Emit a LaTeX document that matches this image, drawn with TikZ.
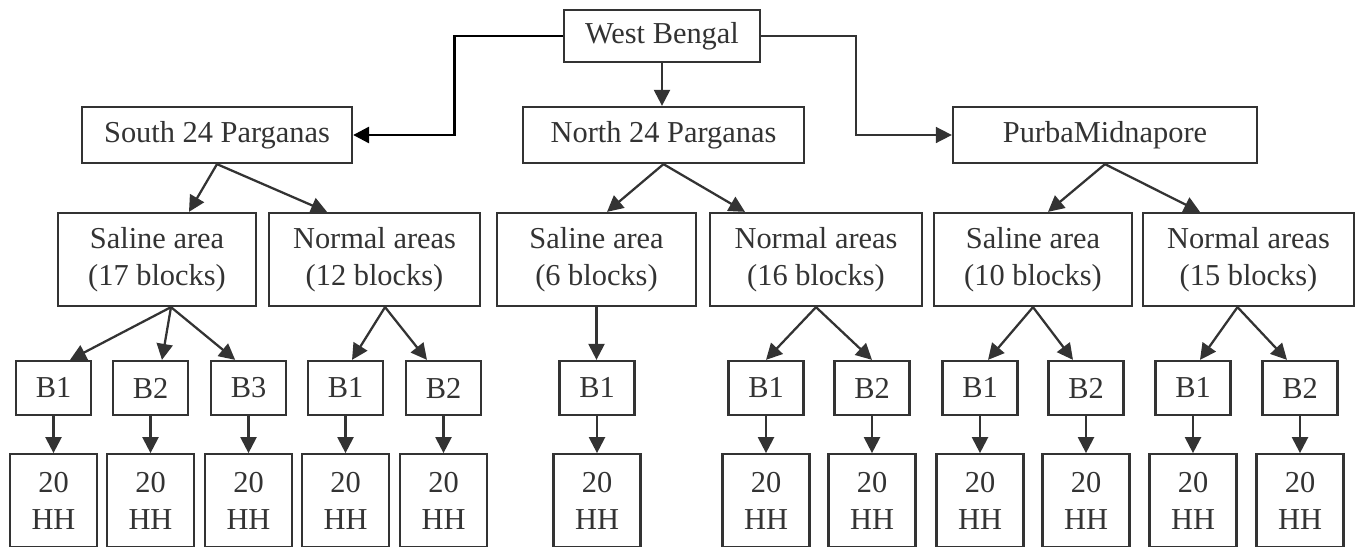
\documentclass[tikz,border=0pt]{standalone}
\usepackage{fontspec}
\setmainfont{Liberation Serif}
\usetikzlibrary{arrows.meta,positioning}
\definecolor{FlowGray}{HTML}{333333}

\begin{document}
\begin{tikzpicture}[
  x=0.75pt, y=0.75pt,
  node distance=27.75pt,
  box/.style={draw=FlowGray, line width=1.7pt, text=FlowGray, align=center, inner sep=0pt, font=\fontsize{22.8}{27.5}\selectfont},
  level/.style={box, minimum height=42pt},
  area/.style={box, minimum height=69.75pt},
  blk/.style={box, minimum width=56.25pt, minimum height=40.5pt},
  hh/.style={box, minimum width=65.25pt, minimum height=69.75pt},
  arrow/.style={-{Triangle[length=12pt,width=12pt]}, line width=1.7pt, draw=FlowGray}
]
\useasboundingbox (0,0) rectangle (1355,-546);

% state and districts
\node[box, minimum width=147pt, minimum height=39pt] (wb) at (662,-36) {West Bengal};
\node[level, minimum width=202.5pt] (south) at (217,-135) {South 24 Parganas};
\node[level, minimum width=210.75pt] (north) at (663.5,-135) {North 24 Parganas};
\node[level, minimum width=228pt] (purba) at (1105,-135) {PurbaMidnapore};

% areas
\node[area, minimum width=148.5pt] (ssal) at (157,-259.5) {Saline area\\(17 blocks)};
\node[area, minimum width=158.25pt] (snor) at (374.5,-259.5) {Normal areas\\(12 blocks)};
\node[area, minimum width=149.25pt] (nsal) at (596.5,-259.5) {Saline area\\(6 blocks)};
\node[area, minimum width=159pt] (nnor) at (816,-259.5) {Normal areas\\(16 blocks)};
\node[area, minimum width=148.5pt] (psal) at (1033,-259.5) {Saline area\\(10 blocks)};
\node[area, minimum width=158.25pt] (pnor) at (1248.5,-259.5) {Normal areas\\(15 blocks)};

% blocks
\node[blk] (sb1) at (53.5,-388) {B1};
\node[blk] (sb2) at (150.5,-388) {B2};
\node[blk] (sb3) at (248.5,-388) {B3};
\node[blk] (snb1) at (345.5,-388) {B1};
\node[blk] (snb2) at (443.5,-388) {B2};
\node[blk] (nb1) at (597,-388) {B1};
\node[blk] (nnb1) at (766,-388) {B1};
\node[blk] (nnb2) at (872,-388) {B2};
\node[blk] (pb1) at (980,-388) {B1};
\node[blk] (pb2) at (1086,-388) {B2};
\node[blk] (pnb1) at (1193,-388) {B1};
\node[blk] (pnb2) at (1300,-388) {B2};

% households
\node[hh, below=of sb1] (sh1) {20\\HH};
\node[hh, below=of sb2] (sh2) {20\\HH};
\node[hh, below=of sb3] (sh3) {20\\HH};
\node[hh, below=of snb1] (snh1) {20\\HH};
\node[hh, below=of snb2] (snh2) {20\\HH};
\node[hh, below=of nb1] (nh1) {20\\HH};
\node[hh, below=of nnb1] (nnh1) {20\\HH};
\node[hh, below=of nnb2] (nnh2) {20\\HH};
\node[hh, below=of pb1] (ph1) {20\\HH};
\node[hh, below=of pb2] (ph2) {20\\HH};
\node[hh, below=of pnb1] (pnh1) {20\\HH};
\node[hh, below=of pnb2] (pnh2) {20\\HH};

\draw[arrow] (wb.south) -- (wb.south |- north.north);
\draw[arrow, draw=black, line width=2.2pt] (wb.west) -- ++(-108,0) |- (south.east);
\draw[arrow, line width=1.2pt] (wb.east) -- ++(95,0) |- (purba.west);

\draw[arrow] (south.south) -- ([xshift=24pt]ssal.north);
\draw[arrow] (south.south) -- ([xshift=-35.6pt]snor.north);
\draw[arrow] (north.south) -- ([xshift=7.9pt]nsal.north);
\draw[arrow] (north.south) -- ([xshift=-53.25pt]nnor.north);
\draw[arrow] (purba.south) -- ([xshift=11.25pt]psal.north);
\draw[arrow] (purba.south) -- ([xshift=-36.4pt]pnor.north);

\draw[arrow] ([xshift=10.5pt]ssal.south) -- ([xshift=12.4pt]sb1.north);
\draw[arrow] ([xshift=10.5pt]ssal.south) -- ([xshift=8.6pt]sb2.north);
\draw[arrow] ([xshift=10.5pt]ssal.south) -- ([xshift=-10pt]sb3.north);
\draw[arrow] ([xshift=7.9pt]snor.south) -- ([xshift=4.9pt]snb1.north);
\draw[arrow] ([xshift=7.9pt]snor.south) -- ([xshift=-12.4pt]snb2.north);
\draw[arrow] (nsal.south) -- (nsal.south |- nb1.north);
\draw[arrow] (nnor.south) -- (nnb1.north);
\draw[arrow] (nnor.south) -- (nnb2.north);
\draw[arrow] (psal.south) -- ([xshift=6pt]pb1.north);
\draw[arrow] (psal.south) -- ([xshift=-9.75pt]pb2.north);
\draw[arrow] ([xshift=-8.25pt]pnor.south) -- ([xshift=5.25pt]pnb1.north);
\draw[arrow] ([xshift=-8.25pt]pnor.south) -- ([xshift=-9.75pt]pnb2.north);

\draw[arrow] (sb1) -- (sh1);
\draw[arrow] (sb2) -- (sh2);
\draw[arrow] (sb3) -- (sh3);
\draw[arrow] (snb1) -- (snh1);
\draw[arrow] (snb2) -- (snh2);
\draw[arrow] (nb1) -- (nh1);
\draw[arrow] (nnb1) -- (nnh1);
\draw[arrow] (nnb2) -- (nnh2);
\draw[arrow] (pb1) -- (ph1);
\draw[arrow] (pb2) -- (ph2);
\draw[arrow] (pnb1) -- (pnh1);
\draw[arrow] (pnb2) -- (pnh2);
\end{tikzpicture}
\end{document}
